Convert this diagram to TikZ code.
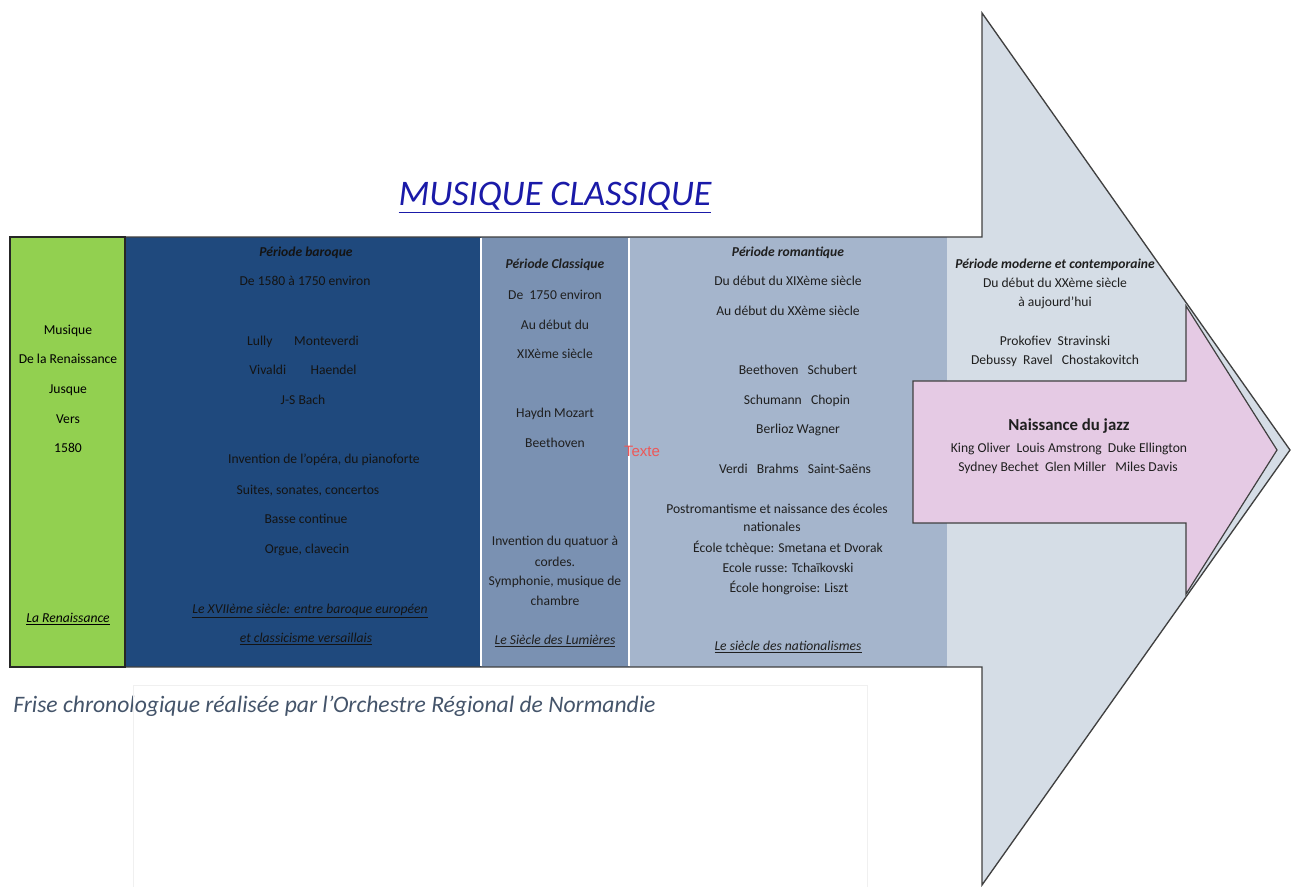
\documentclass[tikz,border=0pt]{standalone}
\usepackage{fontspec}
\setmainfont{Carlito}
\newfontfamily\textefont{Liberation Sans}
\usepackage{xcolor}
\usepackage{tikz}
\usetikzlibrary{calc}

\definecolor{renGreen}{RGB}{146,208,80}
\definecolor{baroqueBlue}{RGB}{31,73,125}
\definecolor{classicBlue}{RGB}{122,145,178}
\definecolor{romanticBlue}{RGB}{165,181,204}
\definecolor{modernGray}{RGB}{213,221,230}
\definecolor{jazzPink}{RGB}{229,202,228}
\definecolor{titleBlue}{RGB}{26,26,168}
\definecolor{captionGray}{RGB}{68,84,106}
\definecolor{texteRed}{RGB}{236,88,88}

\begin{document}
\begin{tikzpicture}[x=0.75pt,y=-0.75pt,
  txt/.style={anchor=base, inner sep=0pt, text=black!88, font=\fontsize{10.2}{12}\selectfont},
  head/.style={txt, font=\fontsize{10.2}{12}\selectfont\bfseries\itshape},
  era/.style={txt, font=\fontsize{10.2}{12}\selectfont\itshape}]

\useasboundingbox (0,0) rectangle (1292,887);

% Big grey arrow (shaft hidden behind the table)
\fill[modernGray] (10,237) -- (982,237) -- (982,13) -- (1290,450) -- (982,885) -- (982,667) -- (10,667) -- cycle;

% Period columns
\foreach \xa/\xb/\col in {10/125/renGreen, 125/481/baroqueBlue, 481/629/classicBlue, 629/947/romanticBlue}
  \fill[\col] (\xa,237) rectangle (\xb,667);
\draw[white, line width=0.9pt] (481,238) -- (481,666);
\draw[white, line width=0.9pt] (629,238) -- (629,666);

% Jazz arrow
\filldraw[fill=jazzPink, draw=black!75, line width=0.9pt] (913,381) -- (1186,381) -- (1186,306) -- (1277,450) -- (1186,594) -- (1186,523) -- (913,523) -- cycle;

% Outlines
\draw[black!75, line width=1pt] (10,237) -- (982,237) -- (982,13) -- (1290,450) -- (982,885) -- (982,667) -- (10,667) -- cycle;
\draw[black!85, line width=1.3pt] (10,237) rectangle (125,667);

% Title and caption
\node[anchor=base, inner sep=0pt, text=titleBlue, font=\fontsize{27}{30}\selectfont\itshape] (title) at (555,206) {\underline{MUSIQUE CLASSIQUE}};
\node[anchor=base west, inner sep=0pt, text=captionGray, font=\fontsize{17.7}{20}\selectfont\itshape] (caption) at (13,712) {Frise chronologique réalisée par l'Orchestre Régional de Normandie};
\draw[black!6] (133,887) -- (133,685) -- (867,685) -- (867,887);

% Renaissance
\foreach \y/\t [count=\i] in {335/Musique, 364/De la Renaissance, 394/Jusque, 424/Vers, 453/1580}
  \node[txt, text=black] (ren\i) at (68,\y) {\t};
\node[era, text=black] (renEra) at (68,622) {\underline{La Renaissance}};

% Baroque
\node[head, text=black!92] (barHead) at (306,257) {Période baroque};
\foreach \x/\y/\t [count=\i] in {305/286/De 1580 à 1750 environ, 303/346/Lully\hspace{1.6em}Monteverdi, 303/375/Vivaldi\hspace{1.8em}Haendel, 303/405/J-S Bach, 324/464/{Invention de l’opéra, du pianoforte}, 308/494/{Suites, sonates, concertos}, 306/523/Basse continue, 307/553/{Orgue, clavecin}}
  \node[txt, text=black!92] (bar\i) at (\x,\y) {\t};
\node[era, text=black!92] (barEra1) at (310,613) {\underline{Le XVIIème siècle: entre baroque européen}};
\node[era, text=black!92] (barEra2) at (306,642) {\underline{et classicisme versaillais}};

% Classique
\node[head] (claHead) at (555,269) {Période Classique};
\foreach \y/\t [count=\i] in {300/De\ \ 1750 environ, 330/Au début du, 359/XIXème siècle, 418/Haydn Mozart, 448/Beethoven, 546/Invention du quatuor à, 566/cordes., 585/{Symphonie, musique de}, 605/chambre}
  \node[txt] (cla\i) at (555,\y) {\t};
\node[era] (claEra) at (555,644) {\underline{Le Siècle des Lumières}};
\node[inner sep=0pt, text=texteRed, font=\textefont\fontsize{11.3}{13}\selectfont] (texte) at (642,451) {Texte};

% Romantique
\node[head] (romHead) at (788,257) {Période romantique};
\foreach \x/\y/\t [count=\i] in {788/286/Du début du XIXème siècle, 788/316/Au début du XXème siècle, 798/375/Beethoven\ \ \ Schubert, 797/405/Schumann\ \ \ Chopin, 798/434/Berlioz Wagner, 795/474/Verdi\ \ \ Brahms\ \ \ Saint-Saëns, 777/513/Postromantisme et naissance des écoles, 772/532/nationales, 788/552/École tchèque: Smetana et Dvorak, 788/572/Ecole russe: Tchaïkovski, 789/592/École hongroise: Liszt}
  \node[txt] (rom\i) at (\x,\y) {\t};
\node[era] (romEra) at (788,650) {\underline{Le siècle des nationalismes}};

% Moderne
\node[head] (modHead) at (1055,269) {Période moderne et contemporaine};
\foreach \y/\t [count=\i] in {288/Du début du XXème siècle, 307/à aujourd’hui, 346/Prokofiev\ \ Stravinski, 365/Debussy\ \ Ravel\ \ \ Chostakovitch}
  \node[txt] (mod\i) at (1055,\y) {\t};

% Jazz
\node[txt, font=\fontsize{12.6}{14}\selectfont\bfseries] (jazzHead) at (1069,431) {Naissance du jazz};
\node[txt] (jazz1) at (1069,453) {King Oliver\ \ Louis Amstrong\ \ Duke Ellington};
\node[txt] (jazz2) at (1068,472) {Sydney Bechet\ \ Glen Miller\ \ \ Miles Davis};
\end{tikzpicture}
\end{document}
